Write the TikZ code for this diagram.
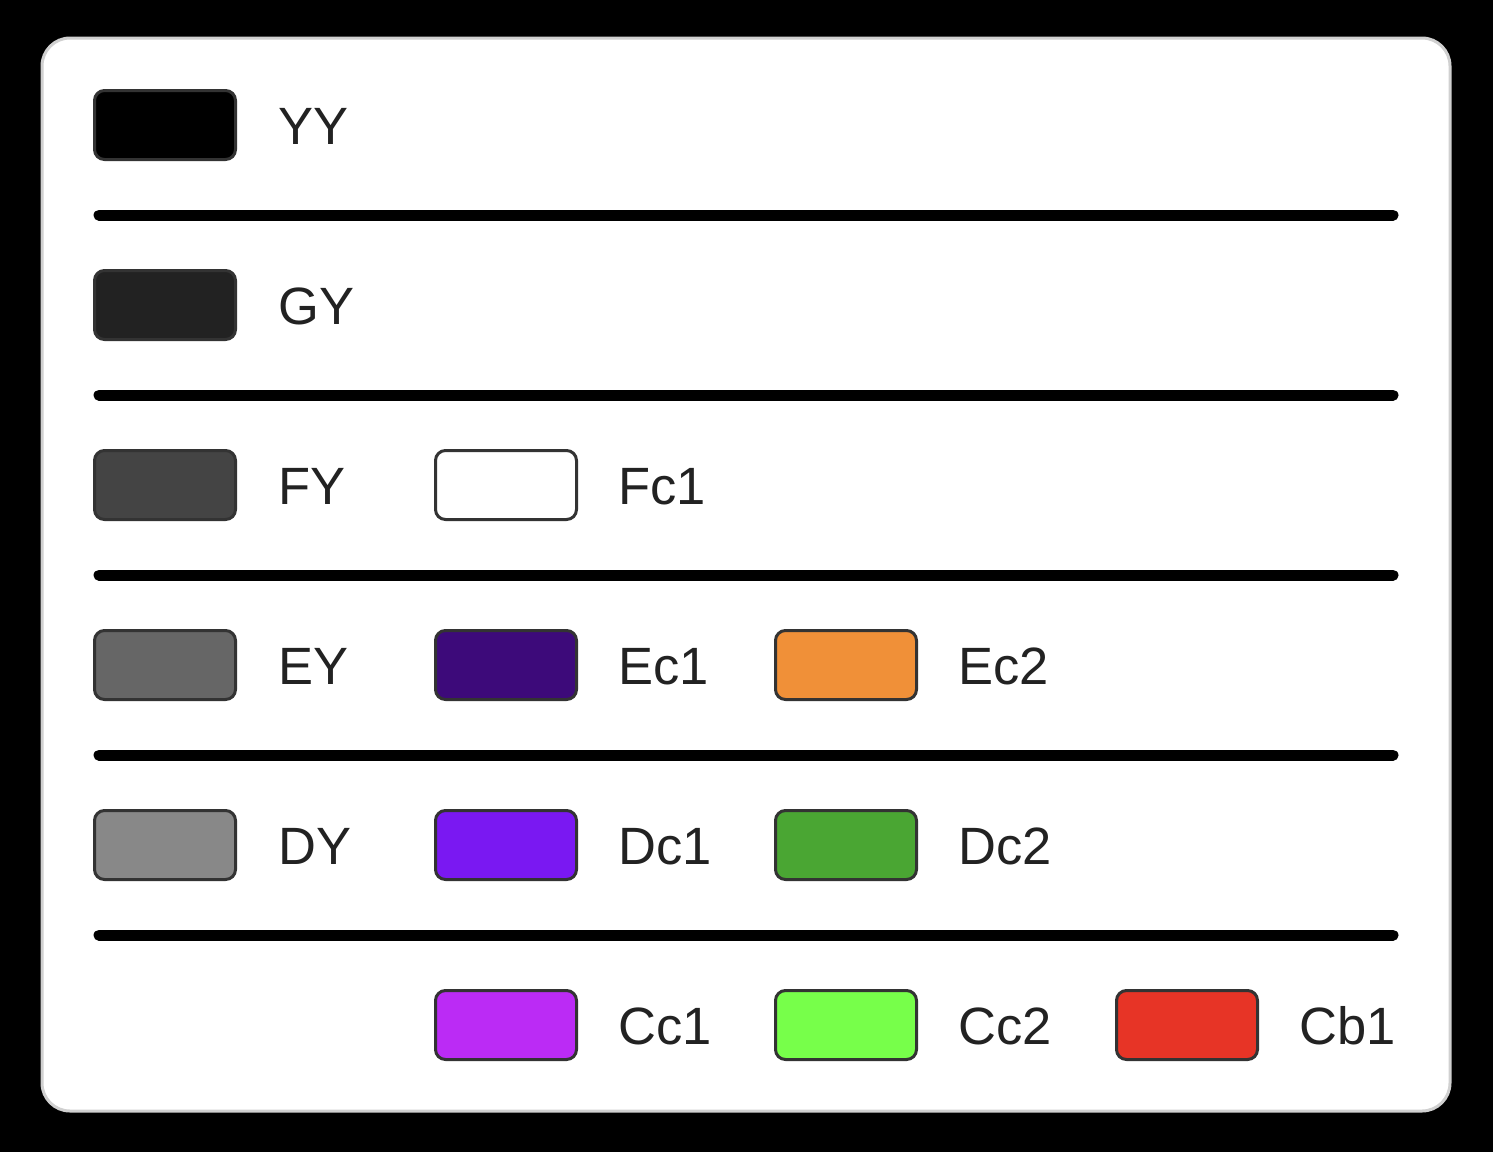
\documentclass[tikz,border=0pt]{standalone}
\usepackage{fontspec}
\setmainfont{Liberation Sans}
\definecolor{ink}{HTML}{222222}
\definecolor{rim}{HTML}{333333}
\definecolor{frame}{HTML}{D0D0D0}
\definecolor{cGY}{HTML}{222222}
\definecolor{cFY}{HTML}{444444}
\definecolor{cEY}{HTML}{666666}
\definecolor{cDY}{HTML}{888888}
\definecolor{cEa}{HTML}{3D0A7A}
\definecolor{cEb}{HTML}{F09038}
\definecolor{cDa}{HTML}{7A18F2}
\definecolor{cDb}{HTML}{4AA633}
\definecolor{cCa}{HTML}{BB2BF5}
\definecolor{cCb}{HTML}{77FF4A}
\definecolor{cCc}{HTML}{E73426}
\tikzset{
  swatch/.style={draw=rim, line width=3pt, rounded corners=10pt,
    minimum width=141pt, minimum height=69pt, inner sep=0pt},
  lbl/.style={anchor=base west, inner sep=0pt, text=ink,
    font=\fontsize{52.5}{52.5}\selectfont},
  sep/.style={line width=11pt, line cap=round}
}
\begin{document}
\begin{tikzpicture}[x=1pt,y=-1pt]
\useasboundingbox (0,0) rectangle (1493,1152);
\fill[black] (0,0) rectangle (1493,1152);
\draw[fill=white, draw=frame, line width=3pt, rounded corners=28pt] (42,38) rectangle (1450,1111);
% row YY
\node[swatch, fill=black] (sYY) at (165,125) {};
\node[lbl] (tYY) at (278,144) {YY};
\coordinate (l1a) at (99,215);
\coordinate (l1b) at (1393,215);
\draw[sep] (l1a) -- (l1b);
% row GY
\node[swatch, fill=cGY] (sGY) at (165,305) {};
\node[lbl] (tGY) at (278,324) {GY};
\coordinate (l2a) at (99,395);
\coordinate (l2b) at (1393,395);
\draw[sep] (l2a) -- (l2b);
% row FY
\node[swatch, fill=cFY] (sFY) at (165,485) {};
\node[lbl] (tFY) at (278,504) {FY};
\node[swatch, fill=white] (sFc1) at (506,485) {};
\node[lbl] (tFc1) at (618,504) {Fc1};
\coordinate (l3a) at (99,575);
\coordinate (l3b) at (1393,575);
\draw[sep] (l3a) -- (l3b);
% row EY
\node[swatch, fill=cEY] (sEY) at (165,665) {};
\node[lbl] (tEY) at (278,684) {EY};
\node[swatch, fill=cEa] (sEc1) at (506,665) {};
\node[lbl] (tEc1) at (618,684) {Ec1};
\node[swatch, fill=cEb] (sEc2) at (846,665) {};
\node[lbl] (tEc2) at (958,684) {Ec2};
\coordinate (l4a) at (99,755);
\coordinate (l4b) at (1393,755);
\draw[sep] (l4a) -- (l4b);
% row DY
\node[swatch, fill=cDY] (sDY) at (165,845) {};
\node[lbl] (tDY) at (278,864) {DY};
\node[swatch, fill=cDa] (sDc1) at (506,845) {};
\node[lbl] (tDc1) at (618,864) {Dc1};
\node[swatch, fill=cDb] (sDc2) at (846,845) {};
\node[lbl] (tDc2) at (958,864) {Dc2};
\coordinate (l5a) at (99,935);
\coordinate (l5b) at (1393,935);
\draw[sep] (l5a) -- (l5b);
% row C
\node[swatch, fill=cCa] (sCc1) at (506,1025) {};
\node[lbl] (tCc1) at (618,1044) {Cc1};
\node[swatch, fill=cCb] (sCc2) at (846,1025) {};
\node[lbl] (tCc2) at (958,1044) {Cc2};
\node[swatch, fill=cCc] (sCb1) at (1187,1025) {};
\node[lbl] (tCb1) at (1299,1044) {Cb1};
\end{tikzpicture}
\end{document}
